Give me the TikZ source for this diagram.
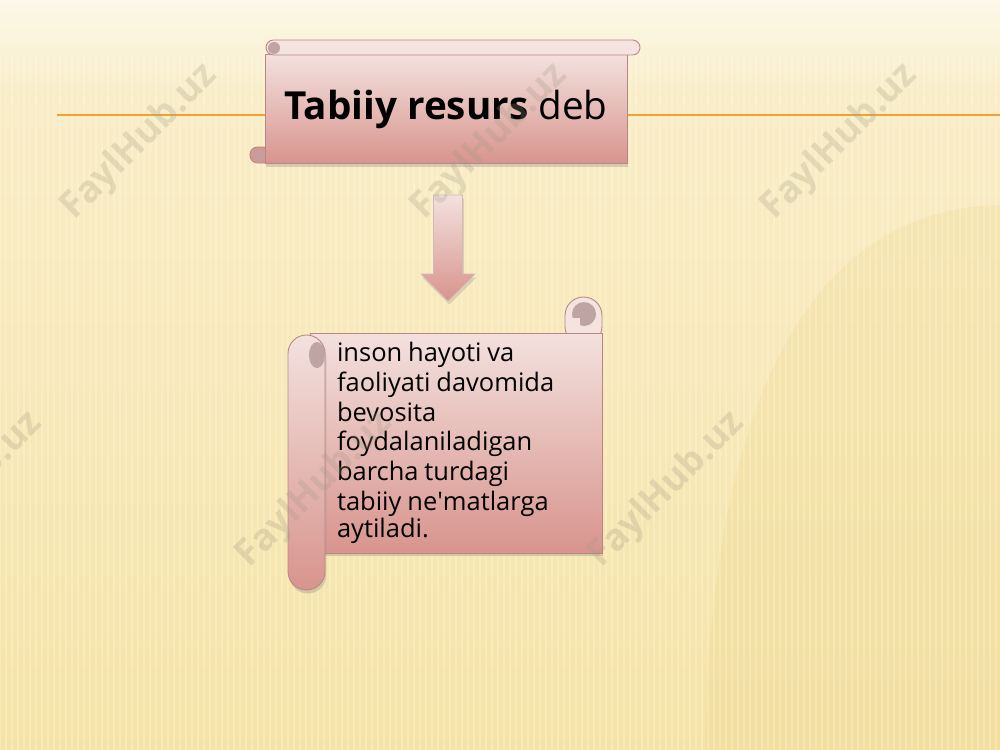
\documentclass[tikz,border=0pt]{standalone}
\usepackage{fontspec}
\setmainfont{Open Sans}
\usetikzlibrary{shadows, positioning}

\definecolor{bgtop}{HTML}{FCF8EA}
\definecolor{bgmid}{HTML}{F9EDC6}
\definecolor{bgbot}{HTML}{F5E3A6}
\definecolor{bgarc}{HTML}{EFD890}
\definecolor{lineorange}{HTML}{F0A236}
\definecolor{scrolltop}{HTML}{F3E1DE}
\definecolor{scrollbot}{HTML}{D8948D}
\definecolor{scrolledge}{HTML}{B98783}
\definecolor{rolltop}{HTML}{F4E3DF}
\definecolor{curlgray}{HTML}{BFA4A4}
\definecolor{wmgray}{HTML}{A39882}

\begin{document}
\begin{tikzpicture}[x=0.02cm, y=-0.02cm,
    scroll/.style={rectangle, draw=scrolledge, line width=0.5pt,
      top color=scrolltop, bottom color=scrollbot,
      drop shadow={shadow xshift=0.8pt, shadow yshift=-2pt, opacity=0.3}},
    roll/.style={draw=scrolledge, line width=0.5pt, fill=rolltop},
    curl/.style={fill=curlgray},
    downarrow/.style={draw=scrolledge!60, line width=0.3pt,
      top color=scrolltop, bottom color=scrollbot,
      drop shadow={shadow xshift=0.8pt, shadow yshift=-2pt, opacity=0.25}},
    wmark/.style={font=\bfseries\fontsize{21}{21}\selectfont, text=wmgray,
      opacity=0.26, rotate=45}]
  \useasboundingbox (0,0) rectangle (1000,750);

  % background
  \fill[top color=bgtop, bottom color=bgmid] (0,0) rectangle (1000,95);
  \fill[top color=bgmid, bottom color=bgbot] (0,95) rectangle (1000,750);
  \fill[bgarc, opacity=0.3] (705,750) .. controls (712,330) and (850,208) .. (1000,205) -- (1000,750) -- cycle;
  \foreach \x in {0,6,...,1000}
    \draw[white, opacity=0.22, line width=0.9pt] (\x,55) -- (\x,750);

  \coordinate (lstart) at (57,115);
  \coordinate (lend) at (1000,115);
  \draw[lineorange, line width=1.2pt] (lstart) -- (lend);

  % title scroll
  \draw[roll, fill=scrollbot!85!curlgray, rounded corners=0.15cm] (250,147) rectangle (272,163);
  \node[scroll, minimum width=7.24cm, minimum height=2.18cm, inner sep=0pt] (title) at (446,109)
    {\fontsize{22}{26}\selectfont\textbf{Tabiiy resurs} deb\hspace{12pt}};
  \fill[curlgray!70!scrollbot] (259,155) circle[radius=6];
  \draw[roll, rounded corners=0.15cm] (266,40) rectangle (640,55);
  \fill[curl] (274,48) circle[radius=6];

  % arrow
  \coordinate (arw) at (448,195);
  \draw[downarrow] (arw) ++(-14.5,0) -- ++(29,0) -- ++(0,79) -- ++(12.5,0)
    -- ++(-27,27) -- ++(-27,-27) -- ++(12.5,0) -- cycle;

  % definition scroll
  \draw[roll, rounded corners=0.37cm] (565,297) rectangle (602,345);
  \fill[curl] (584,314) circle[radius=12];
  \fill[rolltop] (568,318) rectangle (580,333);
  \node[scroll, minimum width=5.84cm, minimum height=4.4cm, text width=4.76cm,
    inner sep=0pt, align=left] (def) at (456,443)
    {\fontsize{14.5}{17}\selectfont inson hayoti va\\ faoliyati davomida\\ bevosita\\
     foydalaniladigan\\ barcha turdagi\\ tabiiy ne\textquotesingle matlarga\\ aytiladi.};
  \draw[roll, top color=scrolltop, bottom color=scrollbot, rounded corners=0.37cm,
    drop shadow={shadow xshift=0.8pt, shadow yshift=-2pt, opacity=0.3}] (288,335) rectangle (325,590);
  \fill[curl] (317,355) ellipse[x radius=8, y radius=13];

  % watermarks
  \node[wmark] (wm1) at (140,142) {FaylHub.uz};
  \node[wmark] (wm2) at (490,142) {FaylHub.uz};
  \node[wmark] (wm3) at (840,142) {FaylHub.uz};
  \node[wmark] (wm4) at (-35,490) {FaylHub.uz};
  \node[wmark] (wm5) at (315,490) {FaylHub.uz};
  \node[wmark] (wm6) at (667,490) {FaylHub.uz};
\end{tikzpicture}
\end{document}
